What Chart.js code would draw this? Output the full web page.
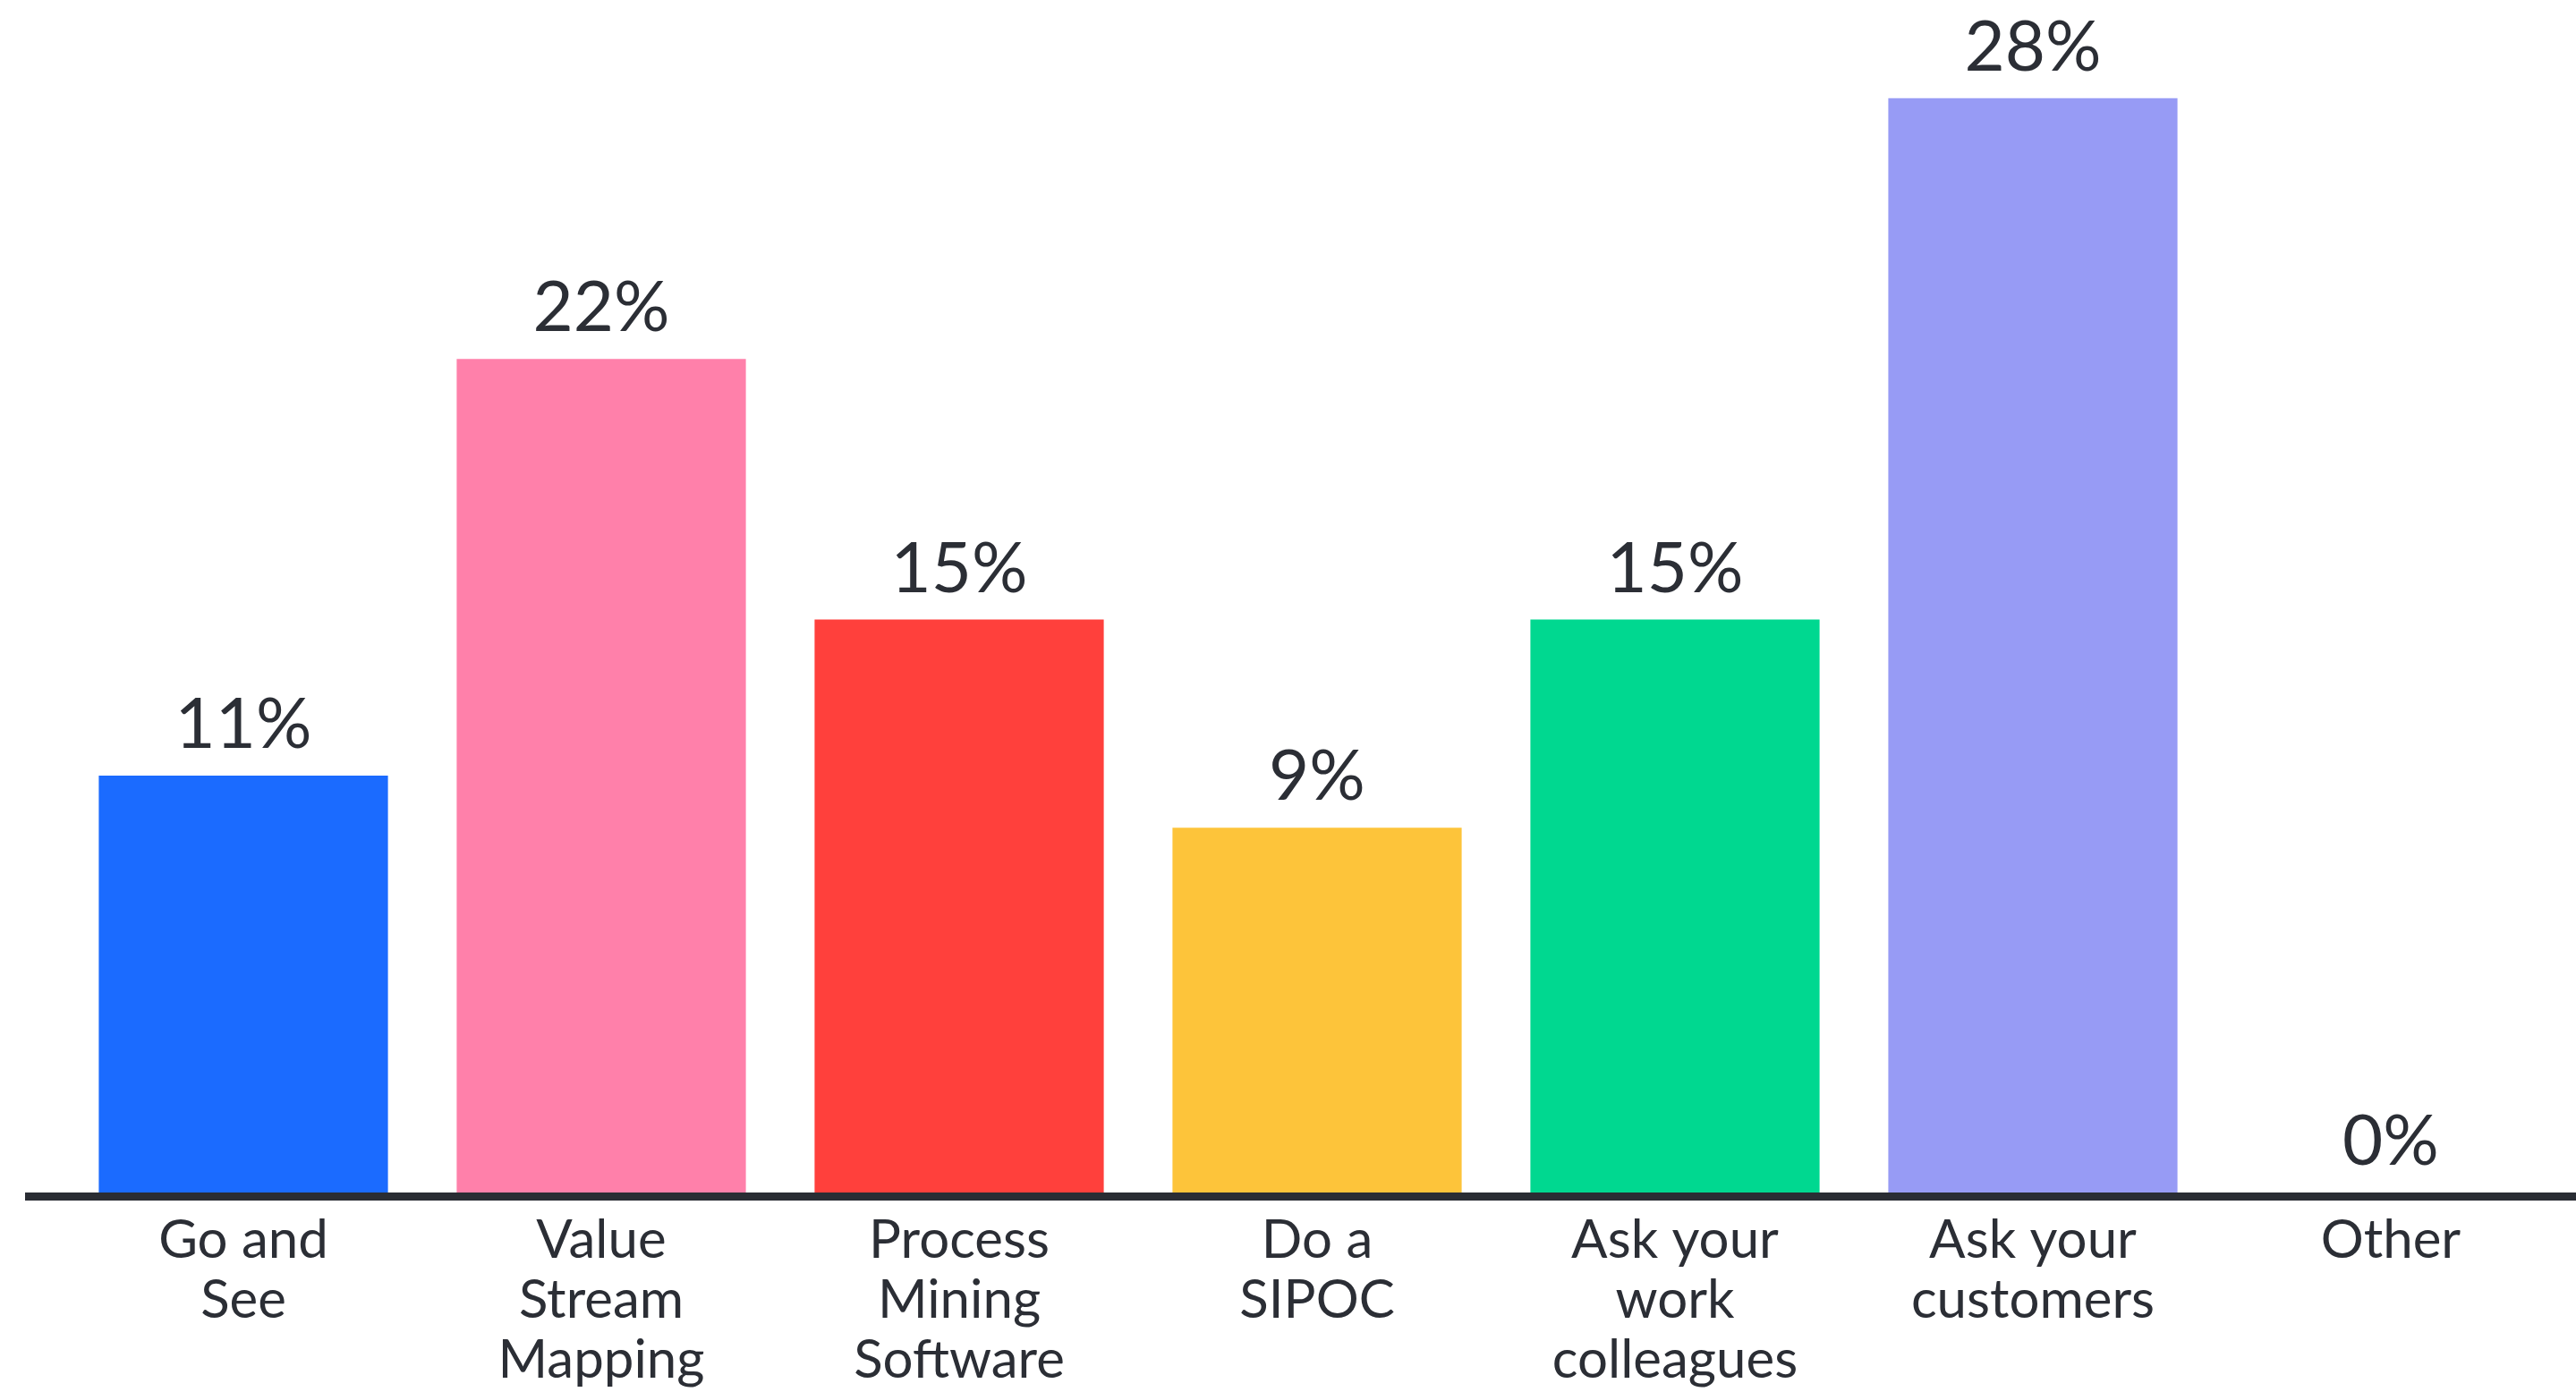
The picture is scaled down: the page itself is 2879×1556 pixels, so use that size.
<!DOCTYPE html>
<html>
<head>
<meta charset="utf-8">
<script src="https://cdn.jsdelivr.net/npm/chart.js@4"></script>
<style>
  html, body { margin: 0; padding: 0; background: #ffffff; }
  #wrap { width: 2879px; height: 1556px; }
</style>
</head>
<body>
<div id="wrap"><canvas id="c" width="2879" height="1556"></canvas></div>
<script>
const categories = [
  ["Go and", "See"],
  ["Value", "Stream", "Mapping"],
  ["Process", "Mining", "Software"],
  ["Do a", "SIPOC"],
  ["Ask your", "work", "colleagues"],
  ["Ask your", "customers"],
  ["Other"]
];
const values = [10.81, 21.62, 14.86, 9.46, 14.86, 28.38, 0];
const barColors = ["#1b6bff", "#ff80aa", "#ff403c", "#fdc43a", "#00d890", "#979bf5", "#cccccc"];
const yMax = 30;

const TEXT = "#2b2e35";

const valueLabels = {
  id: "valueLabels",
  afterDatasetsDraw(chart) {
    const ctx = chart.ctx;
    const meta = chart.getDatasetMeta(0);
    ctx.save();
    ctx.fillStyle = TEXT;
    ctx.font = "78px Lato";
    ctx.textAlign = "center";
    ctx.textBaseline = "alphabetic";
    meta.data.forEach((bar, i) => {
      ctx.fillText(Math.round(values[i]) + "%", bar.x, bar.y - 31);
    });
    ctx.restore();
  }
};

const baseLine = {
  id: "baseLine",
  afterDatasetsDraw(chart) {
    const ctx = chart.ctx;
    const y = chart.scales.y.getPixelForValue(0);
    ctx.save();
    ctx.fillStyle = "#2a2d34";
    ctx.fillRect(28, y, chart.width - 28, 9);
    ctx.restore();
  }
};

new Chart(document.getElementById("c"), {
  type: "bar",
  data: {
    labels: categories,
    datasets: [{
      data: values,
      backgroundColor: barColors,
      borderWidth: 0,
      categoryPercentage: 1,
      barPercentage: 0.808
    }]
  },
  options: {
    responsive: false,
    animation: false,
    devicePixelRatio: 1,
    layout: { padding: { left: 72, right: 7, top: 40, bottom: 0 } },
    plugins: { legend: { display: false }, tooltip: { enabled: false } },
    scales: {
      x: {
        grid: { display: false, drawTicks: false },
        border: { display: false },
        ticks: {
          color: TEXT,
          font: { family: "Lato", size: 60, lineHeight: 1.12 },
          padding: 20,
          maxRotation: 0,
          autoSkip: false
        },
        afterFit(scale) { scale.height = 223; }
      },
      y: {
        display: false,
        min: 0,
        max: yMax
      }
    }
  },
  plugins: [valueLabels, baseLine]
});
</script>
</body>
</html>
